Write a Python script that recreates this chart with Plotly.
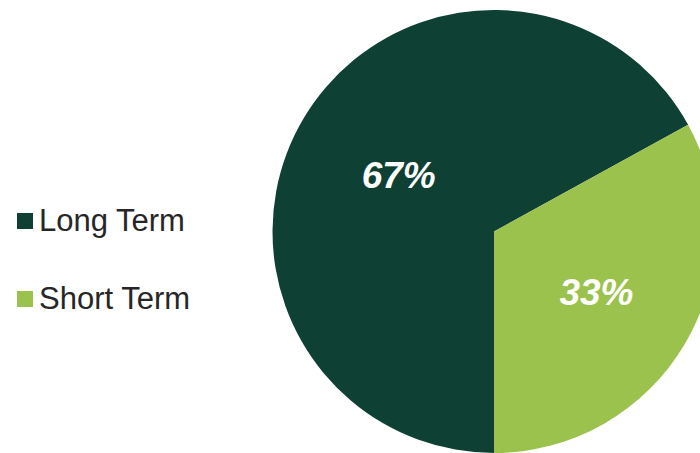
import plotly.graph_objects as go

# Portfolio split by term
labels = ["Long Term", "Short Term"]
values = [67, 33]
colors = ["#0E4034", "#9BC24C"]
value_labels = [f"{v}%" for v in values]

W, H = 720, 453

fig = go.Figure(
    go.Pie(
        labels=labels,
        values=values,
        text=value_labels,
        textinfo="text",
        textposition="inside",
        insidetextorientation="horizontal",
        textfont=dict(family="Liberation Sans Narrow, Arial Narrow, Liberation Sans, Arial",
                      size=37, color="white", weight="bold", style="italic"),
        marker=dict(colors=colors, line=dict(width=0)),
        sort=False,
        direction="clockwise",
        rotation=180,
        hoverinfo="label+percent",
        showlegend=False,
        domain=dict(x=[0.37778, 0.99444], y=[0.0, 0.9779]),
    )
)

# Legend drawn as swatches and labels on the left
legend_y = [221, 299]  # pixel centres from the top
for lab, col, yc in zip(labels, colors, legend_y):
    fig.add_shape(
        type="rect", xref="paper", yref="paper",
        x0=17 / W, x1=33 / W,
        y0=1 - (yc + 8) / H, y1=1 - (yc - 8) / H,
        fillcolor=col, line=dict(width=0),
    )
    fig.add_annotation(
        x=37 / W, y=1 - (yc - 1) / H, xref="paper", yref="paper",
        text=lab, showarrow=False, xanchor="left", yanchor="middle",
        font=dict(family="Liberation Sans, Arial", size=31, color="#262626"),
    )

fig.update_layout(
    width=W, height=H,
    margin=dict(l=0, r=0, t=0, b=0),
    paper_bgcolor="white",
    plot_bgcolor="white",
)

fig.write_html(
    "out.html",
    post_script="document.documentElement.style.overflow='hidden';document.body.style.overflow='hidden';",
)
